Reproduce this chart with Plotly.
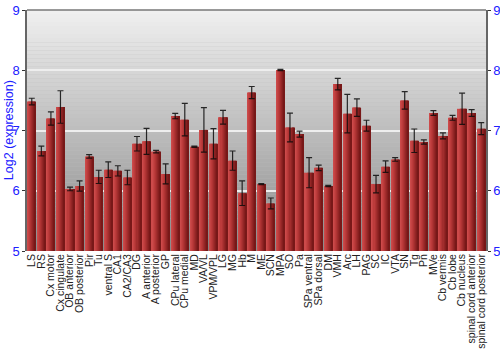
import plotly.graph_objects as go

categories = ["LS", "RS", "Cx motor", "Cx cingulate", "OB anterior", "OB posterior", "Pir", "Tu",
              "ventral S", "CA1", "CA2/CA3", "DG", "A anterior", "A posterior", "GP", "CPu lateral",
              "CPu medial", "MD", "VA/VL", "VPM/VPL", "LG", "MG", "Hb", "M", "ME", "SCN", "MPA", "SO",
              "Pa", "SPa ventral", "SPa dorsal", "DM", "VMH", "Arc", "LH", "PAG", "SC", "IC", "VTA",
              "SN", "Tg", "Pn", "MVe", "Cb vermis", "Cb lobe", "Cb nucleus", "spinal cord anterior",
              "spinal cord posterior"]
values = [7.48, 6.66, 7.20, 7.39, 6.03, 6.08, 6.57, 6.23,
          6.35, 6.33, 6.22, 6.78, 6.82, 6.65, 6.28, 7.24,
          7.18, 6.73, 7.01, 6.78, 7.22, 6.50, 5.96, 7.63, 6.11, 5.79, 8.005, 7.05,
          6.94, 6.30, 6.38, 6.08, 7.77, 7.28, 7.38, 7.08, 6.11, 6.40, 6.52,
          7.50, 6.83, 6.81, 7.29, 6.91, 7.21, 7.36, 7.29, 7.03]
errors = [0.055, 0.08, 0.11, 0.27, 0.03, 0.085, 0.03, 0.11,
          0.13, 0.085, 0.12, 0.12, 0.215, 0.02, 0.165, 0.045,
          0.27, 0.01, 0.37, 0.25, 0.115, 0.16, 0.205, 0.10, 0.01, 0.09, 0.01, 0.24,
          0.05, 0.25, 0.045, 0.01, 0.095, 0.32, 0.145, 0.09, 0.145, 0.095, 0.03,
          0.145, 0.195, 0.035, 0.04, 0.05, 0.04, 0.26, 0.055, 0.10]
y_ticks = [5, 6, 7, 8, 9]

x = list(range(len(categories)))
fig = go.Figure()

# background vertical gradient
nb = 60
def lerp(a, b, t):
    return int(round(a + (b - a) * t))
for i in range(nb):
    t = (i + 0.5) / nb
    c = lerp(0x8a, 0xf0, t)
    fig.add_shape(type="rect", xref="paper", yref="paper", x0=0, x1=1,
                  y0=i / nb, y1=(i + 1) / nb, fillcolor=f"rgb({c},{c},{c})",
                  line_width=0, layer="below")

# bars with horizontal gradient
bw = 0.86
ns = 8
left = (204, 74, 74)
mid = (184, 56, 56)
right = (120, 24, 24)
for s in range(ns):
    t = s / (ns - 1)
    if t < 0.35:
        u = t / 0.35
        col = tuple(lerp(left[k], mid[k], u) for k in range(3))
    else:
        u = (t - 0.35) / 0.65
        col = tuple(lerp(mid[k], right[k], u) for k in range(3))
    fig.add_trace(go.Bar(x=x, y=[v - 5 for v in values], base=5, width=bw / ns + 0.005,
                         offset=-bw / 2 + s * bw / ns,
                         marker=dict(color=f"rgb{col}", line_width=0),
                         showlegend=False, hoverinfo="skip"))

fig.add_trace(go.Scatter(x=x, y=values, mode="markers", marker=dict(size=1, opacity=0),
                         error_y=dict(type="data", array=errors, visible=True,
                                      color="rgba(10,10,10,0.85)", thickness=1.2, width=3),
                         showlegend=False))
fig.add_trace(go.Scatter(x=[0], y=[5], yaxis="y2", mode="markers",
                         marker=dict(opacity=0), showlegend=False, hoverinfo="skip"))

# top border
fig.add_shape(type="line", xref="paper", yref="paper", x0=0, x1=1, y0=1, y1=1,
              line=dict(color="#777777", width=1.5))

fig.update_layout(
    width=500, height=350,
    margin=dict(l=27, r=14, t=10, b=99, autoexpand=False),
    paper_bgcolor="white", plot_bgcolor="#bdbdbd",
    barmode="overlay",
    font=dict(family="Liberation Sans, Arial, sans-serif"),
    xaxis=dict(tickmode="array", tickvals=x, ticktext=categories, tickangle=-90,
               range=[-0.5, len(categories) - 0.5], showgrid=False, zeroline=False,
               ticks="", tickfont=dict(size=10.5, color="#222222"), showline=False,
               automargin=False, ticklabelstandoff=0),
    yaxis=dict(range=[5, 9], tickvals=y_ticks, showgrid=True, gridcolor="#eeeeee",
               gridwidth=2, zeroline=False, showline=True, linecolor="#666666", linewidth=1.5,
               ticks="outside", ticklen=3, tickcolor="#333333", automargin=False,
               tickfont=dict(size=13, color="#2020ff")),
    yaxis2=dict(range=[5, 9], tickvals=y_ticks, overlaying="y", side="right",
                showgrid=False, zeroline=False, showline=True, linecolor="#666666",
                linewidth=1.5, ticks="outside", ticklen=3, tickcolor="#333333",
                automargin=False, tickfont=dict(size=13, color="#2020ff")),
    annotations=[dict(text="Log2 (expression)", xref="paper", yref="paper",
                      x=-0.04, y=0.5, xanchor="center", yanchor="middle",
                      textangle=-90, showarrow=False,
                      font=dict(size=12.5, color="#2020ff"))],
)

fig.write_html("out.html")
